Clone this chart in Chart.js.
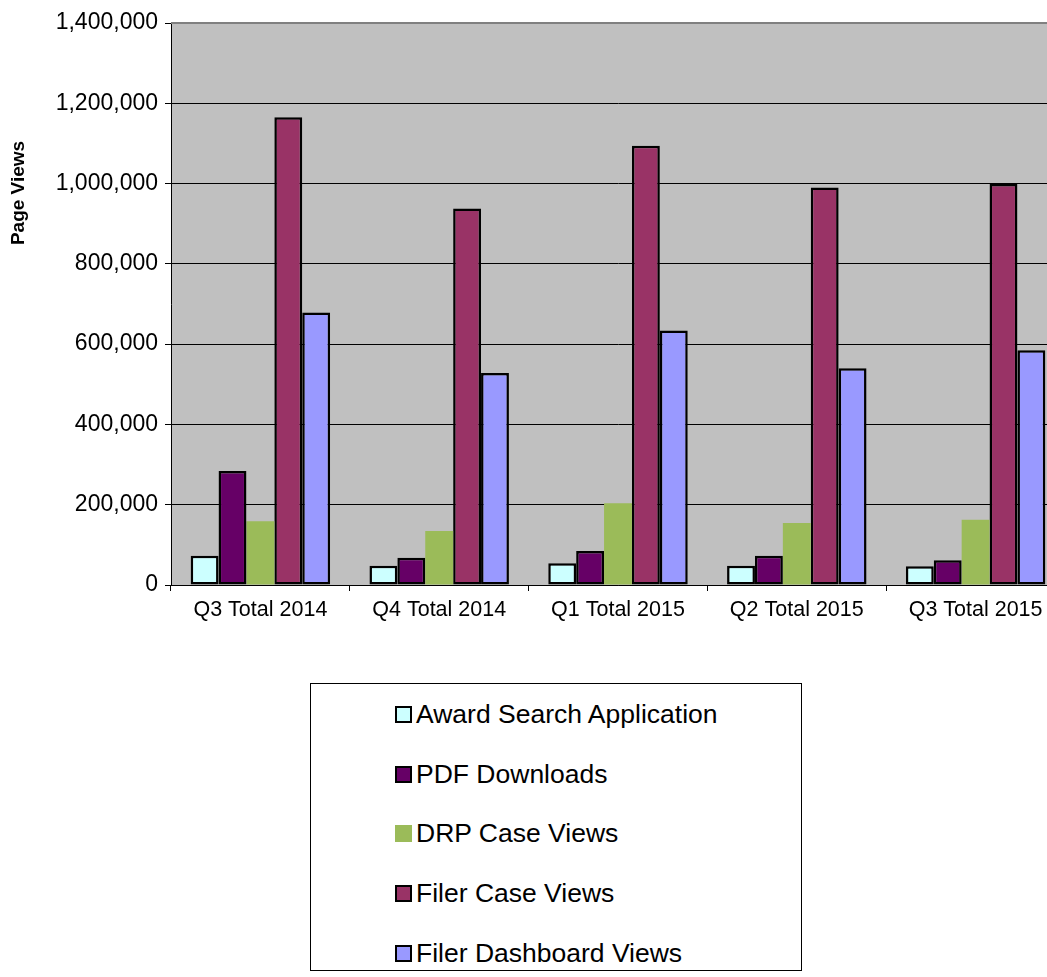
<!DOCTYPE html>
<html>
<head>
<meta charset="utf-8">
<script src="https://cdn.jsdelivr.net/npm/chart.js@4.4.1/dist/chart.umd.min.js"></script>
<style>
  body { margin: 0; background: #fff; width: 1047px; height: 977px; overflow: hidden; position: relative; font-family: "Liberation Sans", Arial, sans-serif; }
  #wrap { position: absolute; left: 0; top: 0; width: 1065px; height: 660px; }
  #legend { position: absolute; left: 310px; top: 683px; width: 492px; height: 288px; border: 1px solid #000; box-sizing: border-box; background: #fff; }
  #legend .item { position: absolute; left: 84px; height: 30px; display: flex; align-items: center; font-size: 26.5px; color: #000; white-space: nowrap; }
  #legend .box { width: 17px; height: 17px; box-sizing: border-box; margin-right: 4px; }
</style>
</head>
<body>
<div id="wrap"><canvas id="pageChart" width="1065" height="660"></canvas></div>
<div id="legend"></div>
<script>
const quarters = ['Q3 Total 2014', 'Q4 Total 2014', 'Q1 Total 2015', 'Q2 Total 2015', 'Q3 Total 2015'];
const seriesNames = ['Award Search Application', 'PDF Downloads', 'DRP Case Views', 'Filer Case Views', 'Filer Dashboard Views'];
// page views per quarter
const awardSearch = [73000, 48000, 54000, 48000, 46500];
const pdfDownloads = [284000, 68000, 85000, 73000, 61500];
const drpCaseViews = [159000, 134500, 203500, 154500, 162500];
const filerCaseViews = [1165000, 938000, 1094000, 990500, 999000];
const filerDashboard = [679000, 528000, 634000, 540000, 584500];
const yTicks = [0, 200000, 400000, 600000, 800000, 1000000, 1200000, 1400000];

const colors = ['#CCFFFF', '#660066', '#9BBB59', '#993366', '#9999FF'];
const borders = [2.5, 2.5, 0, 2.5, 2.5];
const values = [awardSearch, pdfDownloads, drpCaseViews, filerCaseViews, filerDashboard];

// fondo gris del área del gráfico
const plotBg = {
    id: 'plotBg',
    beforeDraw(chart) {
        const a = chart.chartArea, c = chart.ctx;
        c.save();
        c.fillStyle = '#C0C0C0';
        c.fillRect(a.left, a.top, a.right - a.left, a.bottom - a.top);
        c.restore();
    },
    afterDraw(chart) {
        const a = chart.chartArea, c = chart.ctx;
        c.save();
        c.strokeStyle = '#808080';
        c.lineWidth = 2;
        c.beginPath();
        c.moveTo(a.left, a.top);
        c.lineTo(a.right, a.top);
        c.stroke();
        // y axis title
        c.translate(19, 193);
        c.rotate(-Math.PI / 2);
        c.font = 'bold 19px "Liberation Sans", Arial, sans-serif';
        c.fillStyle = '#000';
        c.textAlign = 'center';
        c.textBaseline = 'middle';
        c.fillText('Page Views', 0, 0);
        c.restore();
    }
};

const ctx = document.getElementById('pageChart').getContext('2d');
const pageChart = new Chart(ctx, {
    type: 'bar',
    data: {
        labels: quarters,
        datasets: seriesNames.map((name, i) => ({
            label: name,
            data: values[i],
            backgroundColor: colors[i],
            borderColor: '#000',
            borderWidth: borders[i],
            borderSkipped: false,
            categoryPercentage: 0.78,
            barPercentage: 1
        }))
    },
    options: {
        responsive: false,
        animation: false,
        layout: { padding: { left: 0, top: 23, right: 0, bottom: 0 } },
        plugins: { legend: { display: false }, tooltip: { enabled: false } },
        scales: {
            x: {
                grid: { drawOnChartArea: false, drawTicks: true, tickLength: 6, color: '#000' },
                border: { color: '#000', width: 1 },
                ticks: { color: '#000', padding: 6, font: { family: '"Liberation Sans", Arial', size: 21.5 } },
                afterFit(scale) { scale.height = 75; }
            },
            y: {
                min: 0,
                max: 1400000,
                afterBuildTicks(scale) { scale.ticks = yTicks.map(v => ({ value: v })); },
                grid: { color: '#000', lineWidth: 1, tickLength: 6 },
                border: { color: '#000', width: 1 },
                ticks: {
                    color: '#000',
                    padding: 7,
                    font: { family: '"Liberation Sans", Arial', size: 23 },
                    callback: v => v.toLocaleString('en-US')
                },
                afterFit(scale) { scale.width = 171; }
            }
        }
    },
    plugins: [plotBg]
});

// leyenda HTML
const legend = document.getElementById('legend');
const itemY = [15, 75, 134, 194, 254];
seriesNames.forEach((name, i) => {
    const it = document.createElement('div');
    it.className = 'item';
    it.style.top = itemY[i] + 'px';
    const box = document.createElement('span');
    box.className = 'box';
    box.style.background = colors[i];
    if (borders[i]) box.style.border = '2px solid #000';
    it.appendChild(box);
    it.appendChild(document.createTextNode(name));
    legend.appendChild(it);
});
</script>
</body>
</html>
